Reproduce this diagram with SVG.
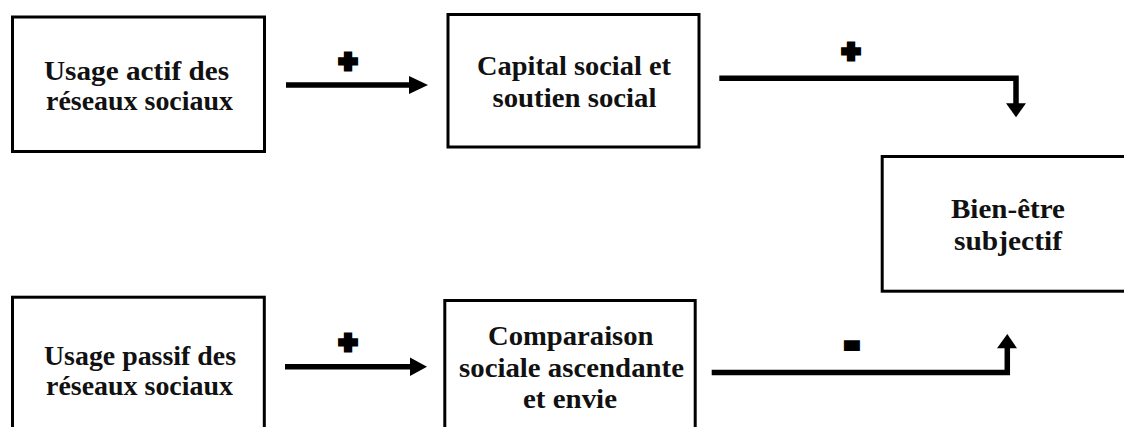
<svg xmlns="http://www.w3.org/2000/svg" width="1124" height="427" viewBox="0 0 1124 427">
<style>
.box{fill:#fff;stroke:#000;stroke-width:3}
.t{font-family:"Liberation Serif","Times New Roman",serif;font-weight:bold;font-size:28px;fill:#111}
.ln{fill:none;stroke:#000;stroke-width:5.5;stroke-linejoin:miter}
.hd{fill:#000}
.plus{font-family:"Liberation Sans",Arial,sans-serif;font-weight:bold;font-size:30px;fill:#000;stroke:#000;stroke-width:5;stroke-linejoin:miter}
.minus{font-family:"Liberation Sans",Arial,sans-serif;font-weight:bold;font-size:40px;fill:#000;stroke:#000;stroke-width:5.8;stroke-linejoin:miter}
</style>
<rect width="1124" height="427" fill="#fff"/>
<g id="connectors">
  <path class="ln" d="M286,85 H411"/>
  <polygon class="hd" points="409,76 428,85 409,94"/>
  <path class="ln" d="M285,366.7 H411"/>
  <polygon class="hd" points="410,357.5 427,366.7 410,376"/>
  <path class="ln" d="M719.3,78.3 H1016 V105"/>
  <polygon class="hd" points="1006,103.3 1026,103.3 1016,117.3"/>
  <path class="ln" d="M711.7,372.5 H1007.3 V347"/>
  <polygon class="hd" points="997,348.3 1017,348.3 1007.3,334"/>
  <text class="plus" x="348" y="71" text-anchor="middle">+</text>
  <text class="plus" x="851" y="61" text-anchor="middle">+</text>
  <text class="plus" x="348" y="352" text-anchor="middle">+</text>
  <text class="minus" x="852" y="356" text-anchor="middle">-</text>
</g>
<g id="usage-actif">
  <rect class="box" x="12.5" y="17" width="252" height="134.5"/>
  <text class="t" x="44" y="80" textLength="185" lengthAdjust="spacingAndGlyphs">Usage actif des</text>
  <text class="t" x="46" y="110" textLength="187" lengthAdjust="spacingAndGlyphs">réseaux sociaux</text>
</g>
<g id="capital-social">
  <rect class="box" x="448" y="14.5" width="251" height="132.5"/>
  <text class="t" x="477" y="75" textLength="194" lengthAdjust="spacingAndGlyphs">Capital social et</text>
  <text class="t" x="492.5" y="107" textLength="164" lengthAdjust="spacingAndGlyphs">soutien social</text>
</g>
<g id="bien-etre">
  <rect class="box" x="882.2" y="156.5" width="255" height="134.7"/>
  <text class="t" x="951" y="218" textLength="114" lengthAdjust="spacingAndGlyphs">Bien-être</text>
  <text class="t" x="954" y="250" textLength="108" lengthAdjust="spacingAndGlyphs">subjectif</text>
</g>
<g id="usage-passif">
  <rect class="box" x="12.5" y="297.2" width="251.8" height="140"/>
  <text class="t" x="44" y="365" textLength="192" lengthAdjust="spacingAndGlyphs">Usage passif des</text>
  <text class="t" x="46" y="395" textLength="187" lengthAdjust="spacingAndGlyphs">réseaux sociaux</text>
</g>
<g id="comparaison">
  <rect class="box" x="444.8" y="300.5" width="250.4" height="140"/>
  <text class="t" x="488" y="345" textLength="165.5" lengthAdjust="spacingAndGlyphs">Comparaison</text>
  <text class="t" x="459" y="377" textLength="225" lengthAdjust="spacingAndGlyphs">sociale ascendante</text>
  <text class="t" x="523" y="408" textLength="94" lengthAdjust="spacingAndGlyphs">et envie</text>
</g>
</svg>
